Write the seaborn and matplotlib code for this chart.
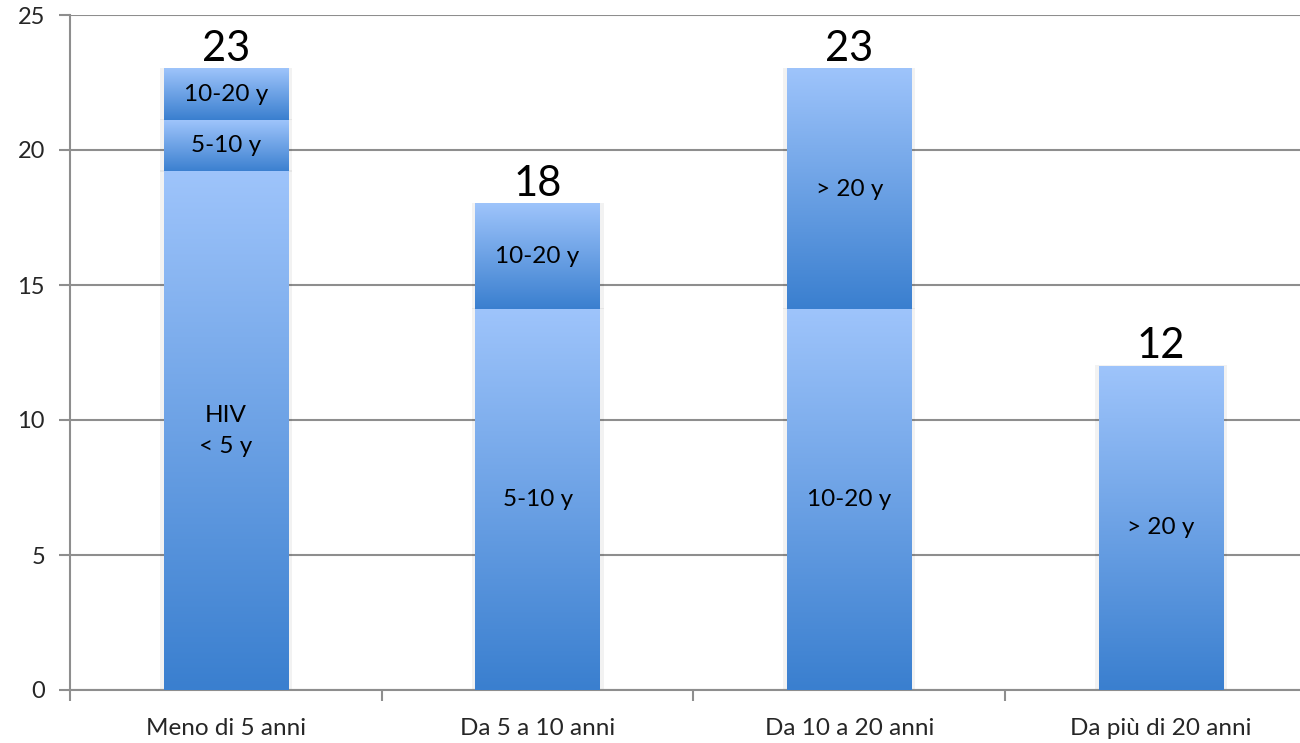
import numpy as np
import pandas as pd
import matplotlib
matplotlib.use("Agg")
import matplotlib.pyplot as plt
import seaborn as sns
from matplotlib.colors import LinearSegmentedColormap
from matplotlib.patches import Rectangle

# ============================================================
# DATA
# ============================================================
categorie = ["Meno di 5 anni", "Da 5 a 10 anni", "Da 10 a 20 anni", "Da più di 20 anni"]

# segments, bottom to top
strato1_val = [19.2, 14.1, 14.1, 12.0]
strato1_lab = ["HIV\n< 5 y", "5-10 y", "10-20 y", "> 20 y"]
strato2_val = [1.9, 3.9, 8.9, 0.0]
strato2_lab = ["5-10 y", "10-20 y", "> 20 y", ""]
strato3_val = [1.9, 0.0, 0.0, 0.0]
strato3_lab = ["10-20 y", "", "", ""]

totali = [23, 18, 23, 12]

y_ticks = [0, 5, 10, 15, 20, 25]

# ============================================================
# STYLE
# ============================================================
sns.set_style("white")
plt.rcParams["font.family"] = ["Lato", "DejaVu Sans"]

GRAY = "#8e8e8e"
LIGHT = "#9ec4fb"
DARK = "#3a7fcf"
cmap = LinearSegmentedColormap.from_list("barra", [DARK, LIGHT])
grad = np.linspace(0, 1, 256).reshape(-1, 1)

fig = plt.figure(figsize=(13, 7.43), dpi=100)
# axis runs a bit past the right edge, like the original screenshot
ax = fig.add_axes([70 / 1300, 1 - 690 / 743, 1247 / 1300, 675 / 743])

# ============================================================
# BARS — cumulative heights drawn tallest first, then gradient fill
# ============================================================
strati = [(strato1_val, strato1_lab), (strato2_val, strato2_lab),
          (strato3_val, strato3_lab)]

cum = np.zeros(len(categorie))
segmenti = []
for val, lab in strati:
    base = cum.copy()
    cum = cum + np.array(val)
    segmenti.append((base, cum.copy(), val, lab))

for base, top, val, lab in reversed(segmenti):
    df = pd.DataFrame({"categoria": categorie, "top": top})
    sns.barplot(data=df, x="categoria", y="top", order=categorie,
                width=0.4, color=LIGHT, ax=ax, zorder=2)
    bars = ax.containers[-1]
    for i, bar in enumerate(bars):
        bar.set_visible(False)
        if val[i] <= 0:
            continue
        x0 = bar.get_x()
        w = bar.get_width()
        b, t = base[i], top[i]
        # soft shadow
        ax.add_patch(Rectangle((x0 - 0.012, b), w + 0.024, t - b + 0.05,
                               facecolor="#000000", alpha=0.05,
                               edgecolor="none", zorder=2))
        ax.imshow(grad, cmap=cmap, origin="lower", aspect="auto",
                  extent=[x0, x0 + w, b, t], zorder=3, interpolation="bilinear")
        ax.text(x0 + w / 2, (b + t) / 2, lab[i], ha="center", va="center",
                fontsize=17.5, linespacing=1.6, color="black", zorder=4)

# totals on top
for i, tot in enumerate(totali):
    ax.text(i, tot + 0.28, str(tot), ha="center", va="baseline",
            fontsize=30, color="black", zorder=4)

# ============================================================
# AXES
# ============================================================
ax.set_xlim(-0.5, 3.5)
ax.set_ylim(0, 25)
ax.set_yticks(y_ticks)
ax.set_yticklabels([str(v) for v in y_ticks], fontsize=17)
ax.yaxis.grid(True, color=GRAY, linewidth=1.5, zorder=0)
ax.set_axisbelow(True)

ax.set_xticks([-0.5, 0.5, 1.5, 2.5, 3.5])
ax.set_xticklabels([])
ax.set_xticks(range(len(categorie)), minor=True)
ax.set_xticklabels(categorie, minor=True, fontsize=17.5)
ax.tick_params(axis="x", which="major", bottom=True, length=8, width=1.5,
               color=GRAY, direction="out")
ax.tick_params(axis="x", which="minor", bottom=True, length=0, pad=20)
ax.tick_params(axis="y", left=True, length=8, width=1.5, color=GRAY,
               direction="out", pad=10)
ax.set_xlabel("")
ax.set_ylabel("")

for s in ["top", "right"]:
    ax.spines[s].set_visible(False)
for s in ["left", "bottom"]:
    ax.spines[s].set_color(GRAY)
    ax.spines[s].set_linewidth(1.5)

fig.savefig("out.png", dpi=100)
